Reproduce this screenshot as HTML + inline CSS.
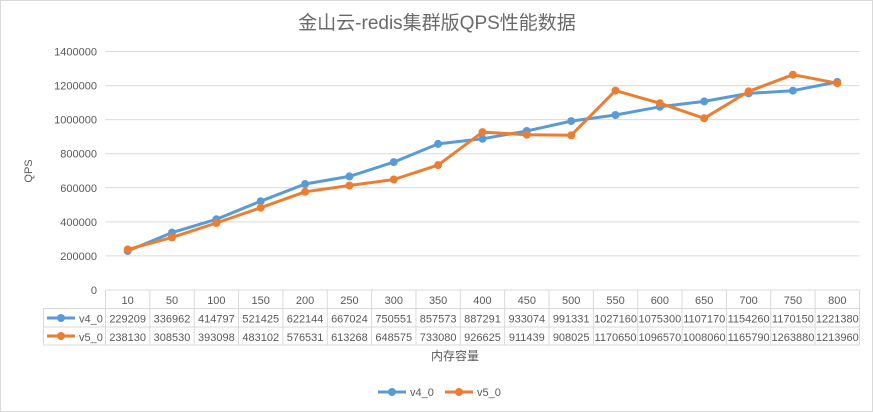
<!DOCTYPE html>
<html><head><meta charset="utf-8"><style>
html,body{margin:0;padding:0;background:#fff}
svg{display:block}
text{font-family:"Liberation Sans","Noto Sans CJK SC",sans-serif;fill:#595959}
</style></head><body>
<svg id="c" width="873" height="412" xmlns="http://www.w3.org/2000/svg"></svg>
<script>
const s=document.getElementById('c');
const cats=[10,50,100,150,200,250,300,350,400,450,500,550,600,650,700,750,800];
const v4=[229209,336962,414797,521425,622144,667024,750551,857573,887291,933074,991331,1027160,1075300,1107170,1154260,1170150,1221380];
const v5=[238130,308530,393098,483102,576531,613268,648575,733080,926625,911439,908025,1170650,1096570,1008060,1165790,1263880,1213960];
const L=105.5,W=44.35,T=51.5,B=290;
let h='<rect x="0.5" y="0.5" width="872" height="411" fill="#fff" stroke="#d9d9d9"/>';
h+='<text x="437" y="29" font-size="19" text-anchor="middle" style="fill:#6a6a6a">金山云-redis集群版QPS性能数据</text>';
for(let i=0;i<=7;i++){const y=T+(B-T)*i/7;
 if(i<7)h+=`<line x1="${L}" x2="${L+17*W}" y1="${y}" y2="${y}" stroke="#d9d9d9"/>`;
 h+=`<text x="97" y="${y+4}" font-size="11" text-anchor="end">${(7-i)*200000}</text>`;}
h+='<text transform="translate(32,171) rotate(-90)" font-size="11" text-anchor="middle">QPS</text>';
h+=`<g stroke="#d9d9d9" fill="none">`;
h+=`<line x1="${L}" x2="${L+17*W}" y1="290" y2="290"/>`;
h+=`<line x1="43.5" x2="${L+17*W}" y1="308.5" y2="308.5"/>`;
h+=`<line x1="43.5" x2="${L+17*W}" y1="327" y2="327"/>`;
h+=`<line x1="43.5" x2="${L+17*W}" y1="345" y2="345"/>`;
h+=`<line x1="43.5" x2="43.5" y1="308.5" y2="345"/>`;
for(let i=0;i<=17;i++)h+=`<line x1="${L+i*W}" x2="${L+i*W}" y1="290" y2="345"/>`;
h+='</g>';
const yv=v=>B-v/1400000*(B-T);
cats.forEach((c,i)=>{const x=L+W*(i+0.5);
 h+=`<text x="${x}" y="304" font-size="11" text-anchor="middle">${c}</text>`;
 h+=`<text x="${x}" y="322.5" font-size="11" text-anchor="middle">${v4[i]}</text>`;
 h+=`<text x="${x}" y="341" font-size="11" text-anchor="middle">${v5[i]}</text>`;});
h+='<line x1="47" x2="75" y1="318" y2="318" stroke="#5b9bd5" stroke-width="3"/><circle cx="61" cy="318" r="4" fill="#5b9bd5"/><text x="79" y="322.5" font-size="11">v4_0</text>';
h+='<line x1="47" x2="75" y1="336" y2="336" stroke="#ed7d31" stroke-width="3"/><circle cx="61" cy="336" r="4" fill="#ed7d31"/><text x="79" y="341" font-size="11">v5_0</text>';
h+='<text x="455" y="360" font-size="12" text-anchor="middle">内存容量</text>';
function ser(d,col){let p=d.map((v,i)=>`${(L+W*(i+0.5)).toFixed(1)},${yv(v).toFixed(1)}`);
 let r=`<polyline points="${p.join(' ')}" fill="none" stroke="${col}" stroke-width="3" stroke-linejoin="round"/>`;
 p.forEach(q=>{const [x,y]=q.split(',');r+=`<circle cx="${x}" cy="${y}" r="4" fill="${col}"/>`});return r;}
h+=ser(v4,'#5b9bd5');h+=ser(v5,'#ed7d31');
h+='<line x1="378" x2="406" y1="392" y2="392" stroke="#5b9bd5" stroke-width="3"/><circle cx="392" cy="392" r="4" fill="#5b9bd5"/><text x="410" y="396" font-size="11">v4_0</text>';
h+='<line x1="445" x2="473" y1="392" y2="392" stroke="#ed7d31" stroke-width="3"/><circle cx="459" cy="392" r="4" fill="#ed7d31"/><text x="477" y="396" font-size="11">v5_0</text>';
s.innerHTML=h;
</script>
</body></html>
